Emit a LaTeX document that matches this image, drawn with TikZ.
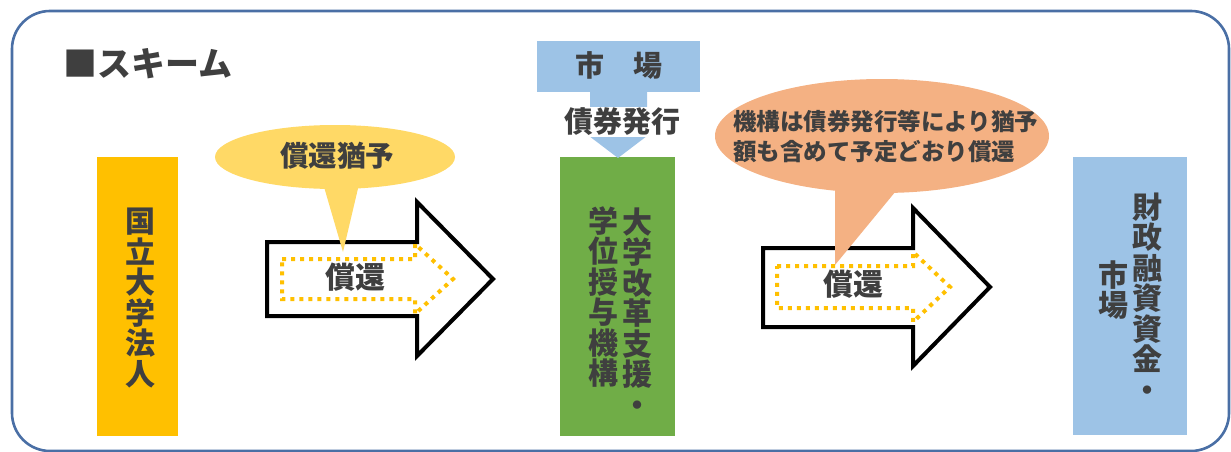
\documentclass[tikz,border=0pt]{standalone}
\usepackage{fontspec}
\setmainfont{Noto Sans CJK JP}
\definecolor{frameblue}{HTML}{4A6FA5}
\definecolor{txt}{HTML}{3F3F3F}
\definecolor{gold}{HTML}{FFC000}
\definecolor{lightgold}{HTML}{FFD966}
\definecolor{peach}{HTML}{F4B183}
\definecolor{kgreen}{HTML}{70AD47}
\definecolor{skyblue}{HTML}{9DC3E6}
\begin{document}
\begin{tikzpicture}[x=1pt,y=-1pt,
  lbl/.style={text=txt,font=\bfseries\fontsize{#1}{#1}\selectfont,inner sep=0pt},
  vcol/.style={text=txt,font=\bfseries\fontsize{30}{30.5}\selectfont,align=center,inner sep=0pt},
  colbox/.style={draw=none,inner sep=0pt,rectangle},
  bigarrow/.style={draw=black,fill=white,line width=4pt,line join=miter},
  dotarrow/.style={draw=gold,line width=4pt,dash pattern=on 4pt off 5pt},
]
\useasboundingbox (0,0) rectangle (1231,452);
% frame
\draw[frameblue,line width=2.6pt,rounded corners=38pt] (12,11) rectangle (1229,451);
% title
\node[lbl=34,anchor=west] (title) at (63,64) {■スキーム};

% boxes
\node[colbox,fill=gold,minimum width=81,minimum height=279] (univ) at (137.5,296.5) {};
\node[colbox,fill=kgreen,minimum width=115,minimum height=279] (kikou) at (617.5,296.5) {};
\node[colbox,fill=skyblue,minimum width=114,minimum height=278] (zaito) at (1130,296) {};
\node[colbox,fill=skyblue,minimum width=163,minimum height=51] (market) at (618.5,66.5) {};

% vertical texts
\node[vcol] (univt) at (140,298) {国\\立\\大\\学\\法\\人};
\node[vcol] (kikout1) at (637,312) {大\\学\\改\\革\\支\\援\\・};
\node[vcol] (kikout2) at (603,297) {学\\位\\授\\与\\機\\構};
\node[vcol] (zaitot1) at (1147,297) {財\\政\\融\\資\\資\\金\\・};
\node[vcol] (zaitot2) at (1113,290) {市\\場};
\node[lbl=29] (markett) at (619,65) {市　場};

% down arrow from market
\fill[skyblue] (590,92) -- (647,92) -- (647,120) -- (668,120) -- (618,158) -- (568,120) -- (590,120) -- cycle;
\node[lbl=29,fill=white,inner ysep=1pt] (bond) at (622,122) {債券発行};

% arrow 1
\draw[bigarrow] (267,242) -- (417,242) -- (417,202) -- (493,279) -- (417,356) -- (417,316) -- (267,316) -- cycle;
\draw[dotarrow] (282,259) -- (415,259) -- (415,244) -- (453,279) -- (415,314) -- (415,299) -- (282,299) -- cycle;
\node[lbl=30] (rep1) at (355,277) {償還};

% arrow 2
\draw[bigarrow] (763,248) -- (913,248) -- (913,208) -- (990,287) -- (913,366) -- (913,327) -- (763,327) -- cycle;
\draw[dotarrow] (777,266) -- (913,266) -- (913,252) -- (950,287) -- (913,322) -- (913,308) -- (777,308) -- cycle;
\node[lbl=30] (rep2) at (853,284) {償還};

% callout 1
\fill[lightgold] (335,157) ellipse [x radius=120,y radius=32];
\fill[lightgold] (322,180) -- (360,180) -- (343,252) -- cycle;
\node[lbl=28.5] (defer) at (337,156) {償還猶予};

% callout 2
\fill[peach] (882,136) ellipse [x radius=167,y radius=57];
\fill[peach] (835,180) -- (905,180) -- (835,265) -- cycle;
\node[text=txt,font=\bfseries\fontsize{23.5}{30}\selectfont,align=left,inner sep=0pt,anchor=west] (note) at (733,137) {機構は債券発行等により猶予\\額も含めて予定どおり償還};
\end{tikzpicture}
\end{document}
